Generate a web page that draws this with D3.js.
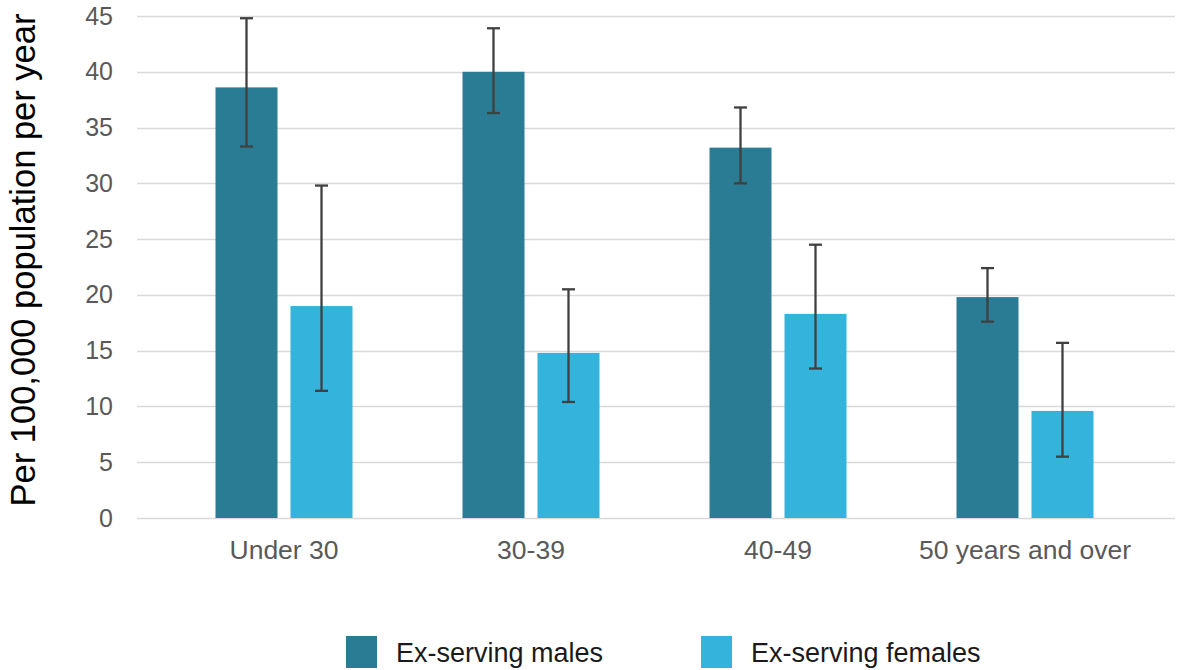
<!DOCTYPE html>
<html>
<head>
<meta charset="utf-8">
<script src="https://cdn.jsdelivr.net/npm/d3@7"></script>
<style>
  body { margin: 0; background: #fff; }
  svg { display: block; font-family: Arial, "Liberation Sans", sans-serif; }
</style>
</head>
<body>
<svg id="chart" width="1177" height="670"></svg>
<script>
// Age groups and series
const categories = ["Under 30", "30-39", "40-49", "50 years and over"];
const seriesNames = ["Ex-serving males", "Ex-serving females"];
const seriesColors = ["#2a7b94", "#34b3dc"];

// Rates per 100,000 population per year
const maleRate   = [38.6, 40.0, 33.2, 19.8];
const maleLow    = [33.3, 36.3, 30.0, 17.6];
const maleHigh   = [44.8, 43.9, 36.8, 22.4];
const femaleRate = [19.0, 14.8, 18.3, 9.6];
const femaleLow  = [11.4, 10.4, 13.4, 5.5];
const femaleHigh = [29.8, 20.5, 24.5, 15.7];

const yTicks = [0, 5, 10, 15, 20, 25, 30, 35, 40, 45];

const series = [
  { name: seriesNames[0], color: seriesColors[0], values: maleRate, low: maleLow, high: maleHigh },
  { name: seriesNames[1], color: seriesColors[1], values: femaleRate, low: femaleLow, high: femaleHigh }
];

const svg = d3.select("#chart");
const gridLeft = 137, gridRight = 1175;
const plotTop = 16, plotBottom = 518;

const y = d3.scaleLinear().domain([0, 45]).range([plotBottom, plotTop]);
const x = d3.scaleBand().domain(categories).range([160.5, 1148.5]).paddingInner(0).paddingOuter(0);
const barW = 62, barGap = 13;
const groupW = barW * 2 + barGap;

// Gridlines
svg.append("g").selectAll("line").data(yTicks).join("line")
  .attr("x1", gridLeft).attr("x2", gridRight)
  .attr("y1", d => Math.round(y(d)) + 0.5).attr("y2", d => Math.round(y(d)) + 0.5)
  .attr("stroke", "#d9d9d9").attr("stroke-width", 1.5);

// Y tick labels
const yAxis = d3.axisLeft(y).tickValues(yTicks).tickSize(0).tickPadding(0);
const yg = svg.append("g").attr("transform", `translate(113,0)`).call(yAxis);
yg.select(".domain").remove();
yg.selectAll("text").attr("font-size", 25).attr("fill", "#595959")
  .attr("font-family", "Arial, 'Liberation Sans', sans-serif");

// X tick labels
const xAxis = d3.axisBottom(x).tickSize(0).tickPadding(0);
const xg = svg.append("g").attr("transform", `translate(0,0)`).call(xAxis);
xg.select(".domain").remove();
xg.selectAll("text").attr("font-size", 26.5).attr("fill", "#595959")
  .attr("dy", null).attr("y", 559)
  .attr("font-family", "Arial, 'Liberation Sans', sans-serif");

// Bars and error bars
series.forEach((s, si) => {
  const xOff = c => x(c) + x.bandwidth() / 2 - groupW / 2 + si * (barW + barGap);
  svg.append("g").selectAll("rect").data(categories).join("rect")
    .attr("x", c => xOff(c))
    .attr("width", barW)
    .attr("y", (c, i) => y(s.values[i]))
    .attr("height", (c, i) => y(0) - y(s.values[i]))
    .attr("fill", s.color);

  const eg = svg.append("g").attr("stroke", "#404040").attr("stroke-width", 2.3);
  categories.forEach((c, i) => {
    const cx = xOff(c) + barW / 2;
    eg.append("line").attr("x1", cx).attr("x2", cx)
      .attr("y1", y(s.high[i])).attr("y2", y(s.low[i]));
    eg.append("line").attr("x1", cx - 6.5).attr("x2", cx + 6.5)
      .attr("y1", y(s.high[i])).attr("y2", y(s.high[i]));
    eg.append("line").attr("x1", cx - 6.5).attr("x2", cx + 6.5)
      .attr("y1", y(s.low[i])).attr("y2", y(s.low[i]));
  });
});

// Y axis title
svg.append("text")
  .attr("transform", `translate(35,260) rotate(-90)`)
  .attr("text-anchor", "middle")
  .attr("font-size", 34.5)
  .attr("fill", "#000")
  .text("Per 100,000 population per year");

// Legend
const legendX = [346, 701];
const lg = svg.append("g");
series.forEach((s, i) => {
  lg.append("rect").attr("x", legendX[i]).attr("y", 636).attr("width", 31).attr("height", 32).attr("fill", s.color);
  lg.append("text").attr("x", legendX[i] + 50).attr("y", 662)
    .attr("font-size", 27).attr("fill", "#1a1a1a").text(s.name);
});
</script>
</body>
</html>
